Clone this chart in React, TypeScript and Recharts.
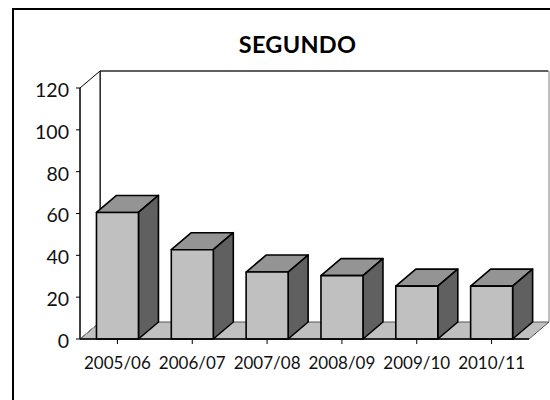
import { BarChart, Bar, XAxis, YAxis, usePlotArea } from "recharts";

const seasons = ["2005/06", "2006/07", "2007/08", "2008/09", "2009/10", "2010/11"];
const values = [60.5, 42.7, 32, 30.3, 25.3, 25.3];
const yTicks = [0, 20, 40, 60, 80, 100, 120];

const data = seasons.map((season, i) => ({ season, value: values[i] }));

const FONT = "Lato, 'Open Sans', sans-serif";
// depth of the fake 3D projection
const DX = 20;
const DY = 17;

function Walls() {
  const plot = usePlotArea();
  if (!plot) return null;
  const { x, y, width, height } = plot;
  const bottom = y + height;
  return (
    <g>
      {/* floor */}
      <polygon
        points={`${x},${bottom} ${x + DX},${bottom - DY} ${x + width + DX},${bottom - DY} ${x + width},${bottom}`}
        fill="#c0c0c0"
        stroke="#555"
        strokeWidth={1}
      />
      {/* back wall */}
      <polyline
        points={`${x + DX},${bottom - DY} ${x + DX},${y - DY} ${x + width + DX},${y - DY} ${x + width + DX},${bottom - DY}`}
        fill="none"
        stroke="#808080"
        strokeWidth={1}
      />
      <polyline
        points={`${x + DX},${bottom - DY} ${x + DX},${y - DY} ${x + width + DX - 1},${y - DY}`}
        fill="none"
        stroke="#000"
        strokeWidth={1}
      />
      {/* side wall */}
      <polygon
        points={`${x},${bottom} ${x},${y} ${x + DX},${y - DY} ${x + DX},${bottom - DY}`}
        fill="#fff"
        stroke="#000"
        strokeWidth={1}
      />
      <line x1={x} y1={bottom} x2={x + DX} y2={bottom - DY} stroke="#999" />
    </g>
  );
}

function Box3D(props: any) {
  const { x, y, width, height } = props;
  const r = x + width;
  const b = y + height;
  return (
    <g stroke="#000" strokeWidth={1.6} strokeLinejoin="round">
      <polygon
        points={`${x},${y} ${x + DX},${y - DY} ${r + DX},${y - DY} ${r},${y}`}
        fill="#949494"
      />
      <polygon
        points={`${r},${y} ${r + DX},${y - DY} ${r + DX},${b - DY} ${r},${b}`}
        fill="#606060"
      />
      <rect x={x} y={y} width={width} height={height} fill="#c0c0c0" />
    </g>
  );
}

export default function App() {
  return (
    <div
      style={{
        position: "absolute",
        left: 0,
        top: 0,
        width: 550,
        height: 400,
        overflow: "hidden",
        background: "#fff",
      }}
    >
      <div
        style={{
          position: "absolute",
          left: 12,
          top: 8,
          width: 540,
          height: 400,
          border: "2px solid #000",
        }}
      />
      <div
        style={{
          position: "absolute",
          left: 0,
          width: 595,
          top: 30,
          textAlign: "center",
          fontFamily: FONT,
          fontWeight: 700,
          fontSize: 23.5,
          letterSpacing: 0.3,
          color: "#000",
        }}
      >
        SEGUNDO
      </div>
      <div style={{ position: "absolute", left: 0, top: 0 }}>
        <BarChart
          width={550}
          height={400}
          data={data}
          margin={{ top: 88, right: 21, bottom: 31, left: 0 }}
          barCategoryGap="22%"
          style={{ overflow: "visible" }}
        >
          <Walls />
          <XAxis
            dataKey="season"
            interval={0}
            tickLine={{ stroke: "#000" }}
            axisLine={{ stroke: "#000", strokeWidth: 1.5 }}
            tickSize={5}
            tick={{ fill: "#111", fontFamily: FONT, fontSize: 17 }}
            tickMargin={13}
          />
          <YAxis
            domain={[0, 120]}
            ticks={yTicks}
            width={80}
            tickLine={{ stroke: "#000" }}
            axisLine={{ stroke: "#000" }}
            tickSize={4}
            tick={{ fill: "#111", fontFamily: FONT, fontSize: 19.5, dy: 2 }}
            tickMargin={7}
          />
          <Bar dataKey="value" isAnimationActive={false} shape={<Box3D />} />
        </BarChart>
      </div>
    </div>
  );
}
